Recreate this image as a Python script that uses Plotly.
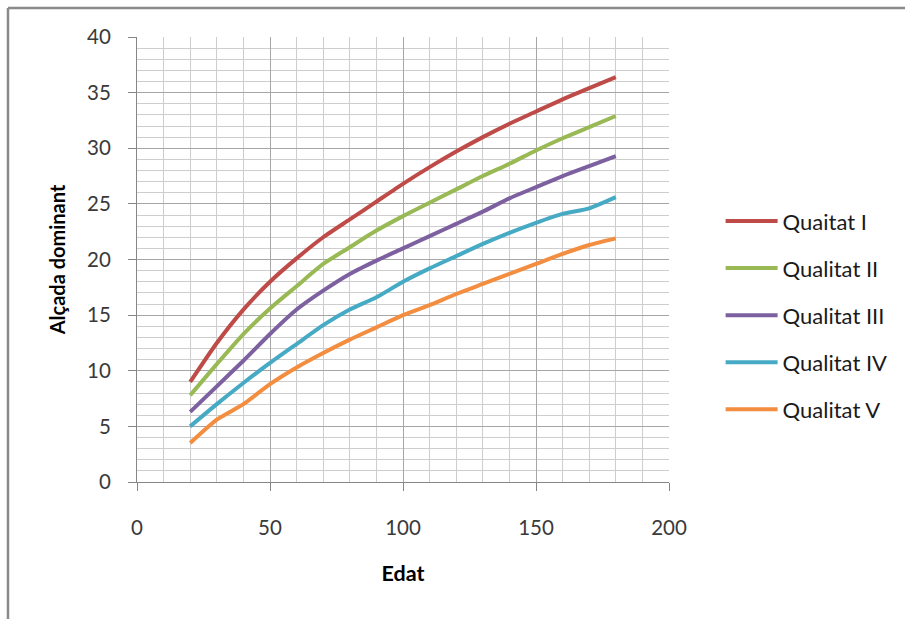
import plotly.graph_objects as go

edat = [20, 30, 40, 50, 60, 70, 80, 90, 100, 110, 120, 130, 140, 150, 160, 170, 180]

qualitat_i = [9.0, 12.5, 15.5, 18.0, 20.1, 22.0, 23.6, 25.2, 26.8, 28.3, 29.7, 31.0, 32.2, 33.3, 34.4, 35.4, 36.4]
qualitat_ii = [7.8, 10.6, 13.3, 15.6, 17.6, 19.6, 21.1, 22.6, 23.9, 25.1, 26.3, 27.5, 28.6, 29.8, 30.9, 31.9, 32.9]
qualitat_iii = [6.3, 8.6, 10.9, 13.3, 15.5, 17.2, 18.7, 19.9, 21.0, 22.1, 23.2, 24.3, 25.5, 26.5, 27.5, 28.4, 29.3]
qualitat_iv = [5.0, 7.0, 8.9, 10.7, 12.4, 14.1, 15.5, 16.6, 18.0, 19.2, 20.3, 21.4, 22.4, 23.3, 24.1, 24.6, 25.6]
qualitat_v = [3.5, 5.6, 7.0, 8.8, 10.3, 11.6, 12.8, 13.9, 15.0, 15.9, 16.9, 17.8, 18.7, 19.6, 20.5, 21.3, 21.9]

series_names = ["Quaitat I", "Qualitat II", "Qualitat III", "Qualitat IV", "Qualitat V"]
series_values = [qualitat_i, qualitat_ii, qualitat_iii, qualitat_iv, qualitat_v]
colors = ["#BE4B48", "#98B954", "#7D60A0", "#46AAC5", "#F38D3F"]

FONT = "Lato"

fig = go.Figure()
for i, (name, vals, col) in enumerate(zip(series_names, series_values, colors)):
    fig.add_trace(go.Scatter(
        x=edat, y=vals, name=name, mode="lines",
        line=dict(color=col, width=4, shape="spline", smoothing=0.6),
        legendgroup=f"g{i}",
    ))

axis_common = dict(
    showline=True, linecolor="#868686", linewidth=1,
    ticks="outside", ticklen=8, tickcolor="#868686", tickwidth=1,
    gridcolor="#A6A6A6", gridwidth=1,
    zeroline=False,
    tickfont=dict(family=FONT, size=20.5, color="#3A3A3A"),
)

fig.update_xaxes(
    range=[0, 200], dtick=50, tick0=0,
    minor=dict(dtick=10, showgrid=True, gridcolor="#CDCDCD", gridwidth=1, ticks=""),
    title=dict(text="<b>Edat</b>", font=dict(family=FONT, size=21.5, color="#000000"), standoff=28),
    ticklabelstandoff=19,
    mirror=False,
    **axis_common,
)
fig.update_yaxes(
    range=[0, 40], dtick=5, tick0=0,
    minor=dict(dtick=1, showgrid=True, gridcolor="#CDCDCD", gridwidth=1, ticks=""),
    title=dict(text="<b>Alçada dominant</b>", font=dict(family=FONT, size=20, color="#000000"), standoff=16),
    ticklabelstandoff=13,
    **axis_common,
)

# chart-area frame (top and left edges, as in the reference crop)
fig.add_shape(type="line", xref="paper", yref="paper", x0=-0.2425, x1=1.5, y0=1.0652, y1=1.0652,
              line=dict(color="#8A8A8A", width=2.5))
fig.add_shape(type="line", xref="paper", yref="paper", x0=-0.2425, x1=-0.2425, y0=1.0652, y1=-0.4,
              line=dict(color="#8A8A8A", width=2.5))

fig.update_layout(
    width=905, height=619,
    margin=dict(l=137, r=236, t=37, b=137),
    paper_bgcolor="white", plot_bgcolor="white",
    font=dict(family=FONT, color="#000000"),
    showlegend=True,
    legend=dict(
        x=1.097, xanchor="left", y=0.375, yanchor="middle",
        font=dict(family=FONT, size=22, color="#1A1A1A"),
        traceorder="grouped", tracegroupgap=15.5,
        itemwidth=52,
        bgcolor="rgba(0,0,0,0)", borderwidth=0,
    ),
)

fig.write_html("out.html")
